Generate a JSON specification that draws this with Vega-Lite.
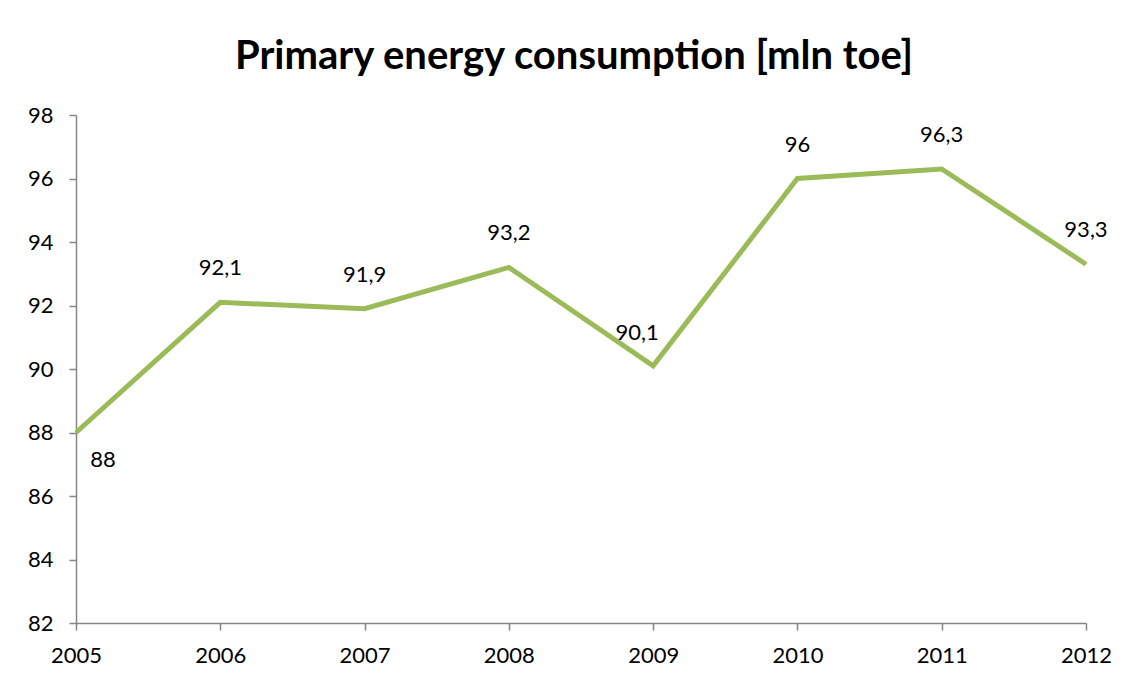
{
  "$schema": "https://vega.github.io/schema/vega-lite/v6.json",
  "autosize": "none",
  "width": 1010,
  "height": 508,
  "padding": {"left": 76, "top": 115, "right": 46, "bottom": 61},
  "background": "white",
  "config": {
    "view": {"stroke": null},
    "font": "Lato",
    "locale": {"number": {"decimal": ",", "thousands": ".", "grouping": [3], "currency": ["", ""]}}
  },
  "title": {
    "text": "Primary energy consumption [mln toe]",
    "font": "Lato",
    "fontSize": 40,
    "fontWeight": "bold",
    "color": "black",
    "anchor": "middle",
    "dx": -7,
    "offset": 27
  },
  "data": {
    "values": [
      {"year": "2005", "value": 88},
      {"year": "2006", "value": 92.1},
      {"year": "2007", "value": 91.9},
      {"year": "2008", "value": 93.2},
      {"year": "2009", "value": 90.1},
      {"year": "2010", "value": 96},
      {"year": "2011", "value": 96.3},
      {"year": "2012", "value": 93.3}
    ]
  },
  "encoding": {
    "x": {
      "field": "year", "type": "ordinal",
      "scale": {"type": "point", "padding": 0},
      "axis": {
        "title": null, "labelAngle": 0, "labelFontSize": 22, "labelColor": "black",
        "labelFont": "Lato",
        "domainColor": "#868686", "domainWidth": 1.5, "tickColor": "#868686", "tickWidth": 1.5,
        "tickSize": 7, "labelPadding": 15, "grid": false
      }
    },
    "y": {
      "field": "value", "type": "quantitative",
      "scale": {"domain": [82, 98], "nice": false, "zero": false},
      "axis": {
        "title": null, "values": [82, 84, 86, 88, 90, 92, 94, 96, 98], "labelFontSize": 22,
        "labelColor": "black", "labelFont": "Lato",
        "domainColor": "#868686", "domainWidth": 1.5, "tickColor": "#868686", "tickWidth": 1.5,
        "tickSize": 7, "labelPadding": 16, "grid": false
      }
    }
  },
  "layer": [
    {"mark": {"type": "line", "color": "#9BBB59", "strokeWidth": 5, "strokeJoin": "miter"}},
    {
      "transform": [{"filter": "datum.year != '2005' && datum.year != '2009'"}],
      "mark": {"type": "text", "fontSize": 22, "color": "black", "dy": -34, "font": "Lato"},
      "encoding": {"text": {"field": "value", "type": "quantitative", "format": ".1~f"}}
    },
    {
      "transform": [{"filter": "datum.year == '2005'"}],
      "mark": {"type": "text", "fontSize": 22, "color": "black", "dx": 27, "dy": 27, "font": "Lato"},
      "encoding": {"text": {"field": "value", "type": "quantitative", "format": ".1~f"}}
    },
    {
      "transform": [{"filter": "datum.year == '2009'"}],
      "mark": {"type": "text", "fontSize": 22, "color": "black", "dx": -16, "dy": -33, "font": "Lato"},
      "encoding": {"text": {"field": "value", "type": "quantitative", "format": ".1~f"}}
    }
  ]
}
